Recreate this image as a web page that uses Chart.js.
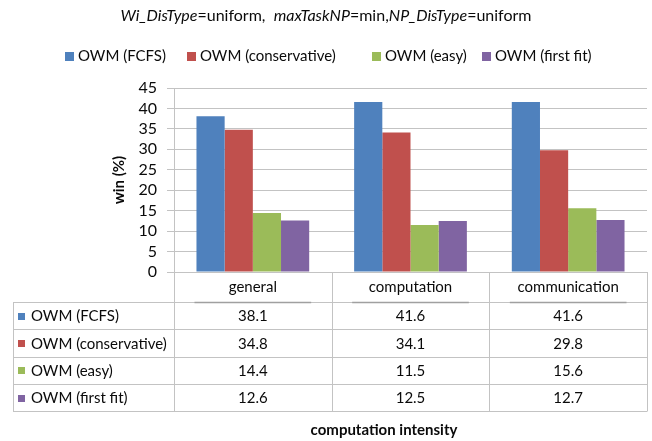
<!DOCTYPE html>
<html>
<head>
<meta charset="utf-8">
<script src="https://cdn.jsdelivr.net/npm/chart.js@4.4.1/dist/chart.umd.min.js"></script>
<style>
  html, body { margin: 0; padding: 0; background: #ffffff; }
  #wrap { width: 652px; height: 441px; }
</style>
</head>
<body>
<div id="wrap"><canvas id="c" width="652" height="441"></canvas></div>
<script>
// ---- data ----
const categories = ['general', 'computation', 'communication'];
const seriesNames = ['OWM (FCFS)', 'OWM (conservative)', 'OWM (easy)', 'OWM (first fit)'];
const fcfsWin = [38.1, 41.6, 41.6];
const conservativeWin = [34.8, 34.1, 29.8];
const easyWin = [14.4, 11.5, 15.6];
const firstFitWin = [12.6, 12.5, 12.7];
const yTickValues = [0, 5, 10, 15, 20, 25, 30, 35, 40, 45];
const titleParts = [
  ['Wi_DisType', true], ['=uniform,  ', false],
  ['maxTaskNP', true], ['=min,', false],
  ['NP_DisType', true], ['=uniform', false]
];
const xAxisTitle = 'computation intensity';
const yAxisTitle = 'win (%)';

// ---- styling ----
const seriesColors = ['#4F81BD', '#C0504D', '#9BBB59', '#8064A2'];
const FONT = 'Lato, "Open Sans", sans-serif';
const GRID = '#c3c3c3';
const TEXT = '#0a0a0a';
const seriesValues = [fcfsWin, conservativeWin, easyWin, firstFitWin];

// Title, legend, data table and x-axis caption drawn around the plot
const decorations = {
  id: 'decorations',
  afterDraw(chart) {
    const { ctx, chartArea: ca } = chart;
    const nCat = categories.length;
    const colW = (ca.right - ca.left) / nCat;
    const rowTop = 302, rowH = 27.3, nRows = seriesNames.length;
    const tableLeft = 13;
    const tableBottom = rowTop + nRows * rowH;
    const px = v => Math.round(v) + 0.5;

    ctx.save();

    // title with italic parameter names
    ctx.textBaseline = 'middle';
    ctx.fillStyle = TEXT;
    let total = 0;
    const widths = titleParts.map(([t, it]) => {
      ctx.font = (it ? 'italic ' : '') + '16px ' + FONT;
      const w = ctx.measureText(t).width; total += w; return w;
    });
    let tx = 326 - total / 2;
    titleParts.forEach(([t, it], i) => {
      ctx.font = (it ? 'italic ' : '') + '16px ' + FONT;
      ctx.textAlign = 'left';
      ctx.fillText(t, tx, 16);
      tx += widths[i];
    });

    // legend
    const legendX = [65, 187, 372, 482];
    ctx.font = '15px ' + FONT;
    seriesNames.forEach((name, i) => {
      ctx.fillStyle = seriesColors[i];
      ctx.fillRect(legendX[i], 52, 9, 9);
      ctx.fillStyle = TEXT;
      ctx.textAlign = 'left';
      ctx.fillText(name, legendX[i] + 13, 56.5);
    });

    // table grid
    ctx.strokeStyle = GRID;
    ctx.lineWidth = 1;
    ctx.beginPath();
    for (let r = 0; r <= nRows; r++) {
      const y = px(rowTop + r * rowH);
      ctx.moveTo(tableLeft, y); ctx.lineTo(ca.right, y);
    }
    ctx.moveTo(px(tableLeft), rowTop); ctx.lineTo(px(tableLeft), px(tableBottom));
    for (let c = 0; c <= nCat; c++) {
      const x = px(ca.left + c * colW);
      ctx.moveTo(x, ca.bottom); ctx.lineTo(x, px(tableBottom));
    }
    ctx.stroke();

    // darker rule under each category heading
    ctx.strokeStyle = '#a0a0a0';
    ctx.lineWidth = 1.5;
    ctx.beginPath();
    for (let c = 0; c < nCat; c++) {
      const cx = ca.left + (c + 0.5) * colW;
      ctx.moveTo(cx - 0.37 * colW, rowTop + 0.5); ctx.lineTo(cx + 0.37 * colW, rowTop + 0.5);
    }
    ctx.stroke();

    // table rows
    ctx.font = '15px ' + FONT;
    seriesNames.forEach((name, r) => {
      const yc = rowTop + (r + 0.5) * rowH + 1;
      ctx.fillStyle = seriesColors[r];
      ctx.fillRect(18, Math.round(yc - 4), 7, 7);
      ctx.fillStyle = TEXT;
      ctx.textAlign = 'left';
      ctx.fillText(name, 31, yc);
      ctx.textAlign = 'center';
      seriesValues[r].forEach((v, c) => {
        const cx = chart.scales.x.getPixelForValue(c);
        ctx.fillText(v.toFixed(1), cx, yc);
      });
    });

    // x-axis caption
    ctx.font = 'bold 15px ' + FONT;
    ctx.textAlign = 'center';
    ctx.fillStyle = TEXT;
    ctx.fillText(xAxisTitle, 384, 430);

    ctx.restore();
  }
};

new Chart(document.getElementById('c'), {
  type: 'bar',
  data: {
    labels: categories,
    datasets: seriesNames.map((name, i) => ({
      label: name,
      data: seriesValues[i],
      backgroundColor: seriesColors[i],
      borderWidth: 0,
      categoryPercentage: 0.715,
      barPercentage: 1.0
    }))
  },
  options: {
    responsive: false,
    animation: false,
    devicePixelRatio: 1,
    layout: { padding: { top: 88, right: 5, bottom: 0, left: 0 } },
    plugins: {
      legend: { display: false },
      title: { display: false },
      tooltip: { enabled: false }
    },
    scales: {
      x: {
        grid: { display: false, drawTicks: false },
        border: { display: false },
        ticks: { color: TEXT, font: { family: FONT, size: 15 }, padding: 6 },
        afterFit(s) { s.height = 169; }
      },
      y: {
        min: 0,
        max: 45,
        afterBuildTicks(s) { s.ticks = yTickValues.map(v => ({ value: v })); },
        grid: { color: GRID, tickLength: 7 },
        border: { color: GRID },
        ticks: { color: TEXT, font: { family: FONT, size: 16 }, padding: 10, autoSkip: false },
        title: {
          display: true, text: yAxisTitle, color: TEXT,
          font: { family: FONT, size: 15, weight: 'bold' },
          padding: { top: 110, bottom: 0 }
        },
        afterFit(s) { s.width = 174; }
      }
    }
  },
  plugins: [decorations]
});
</script>
</body>
</html>
